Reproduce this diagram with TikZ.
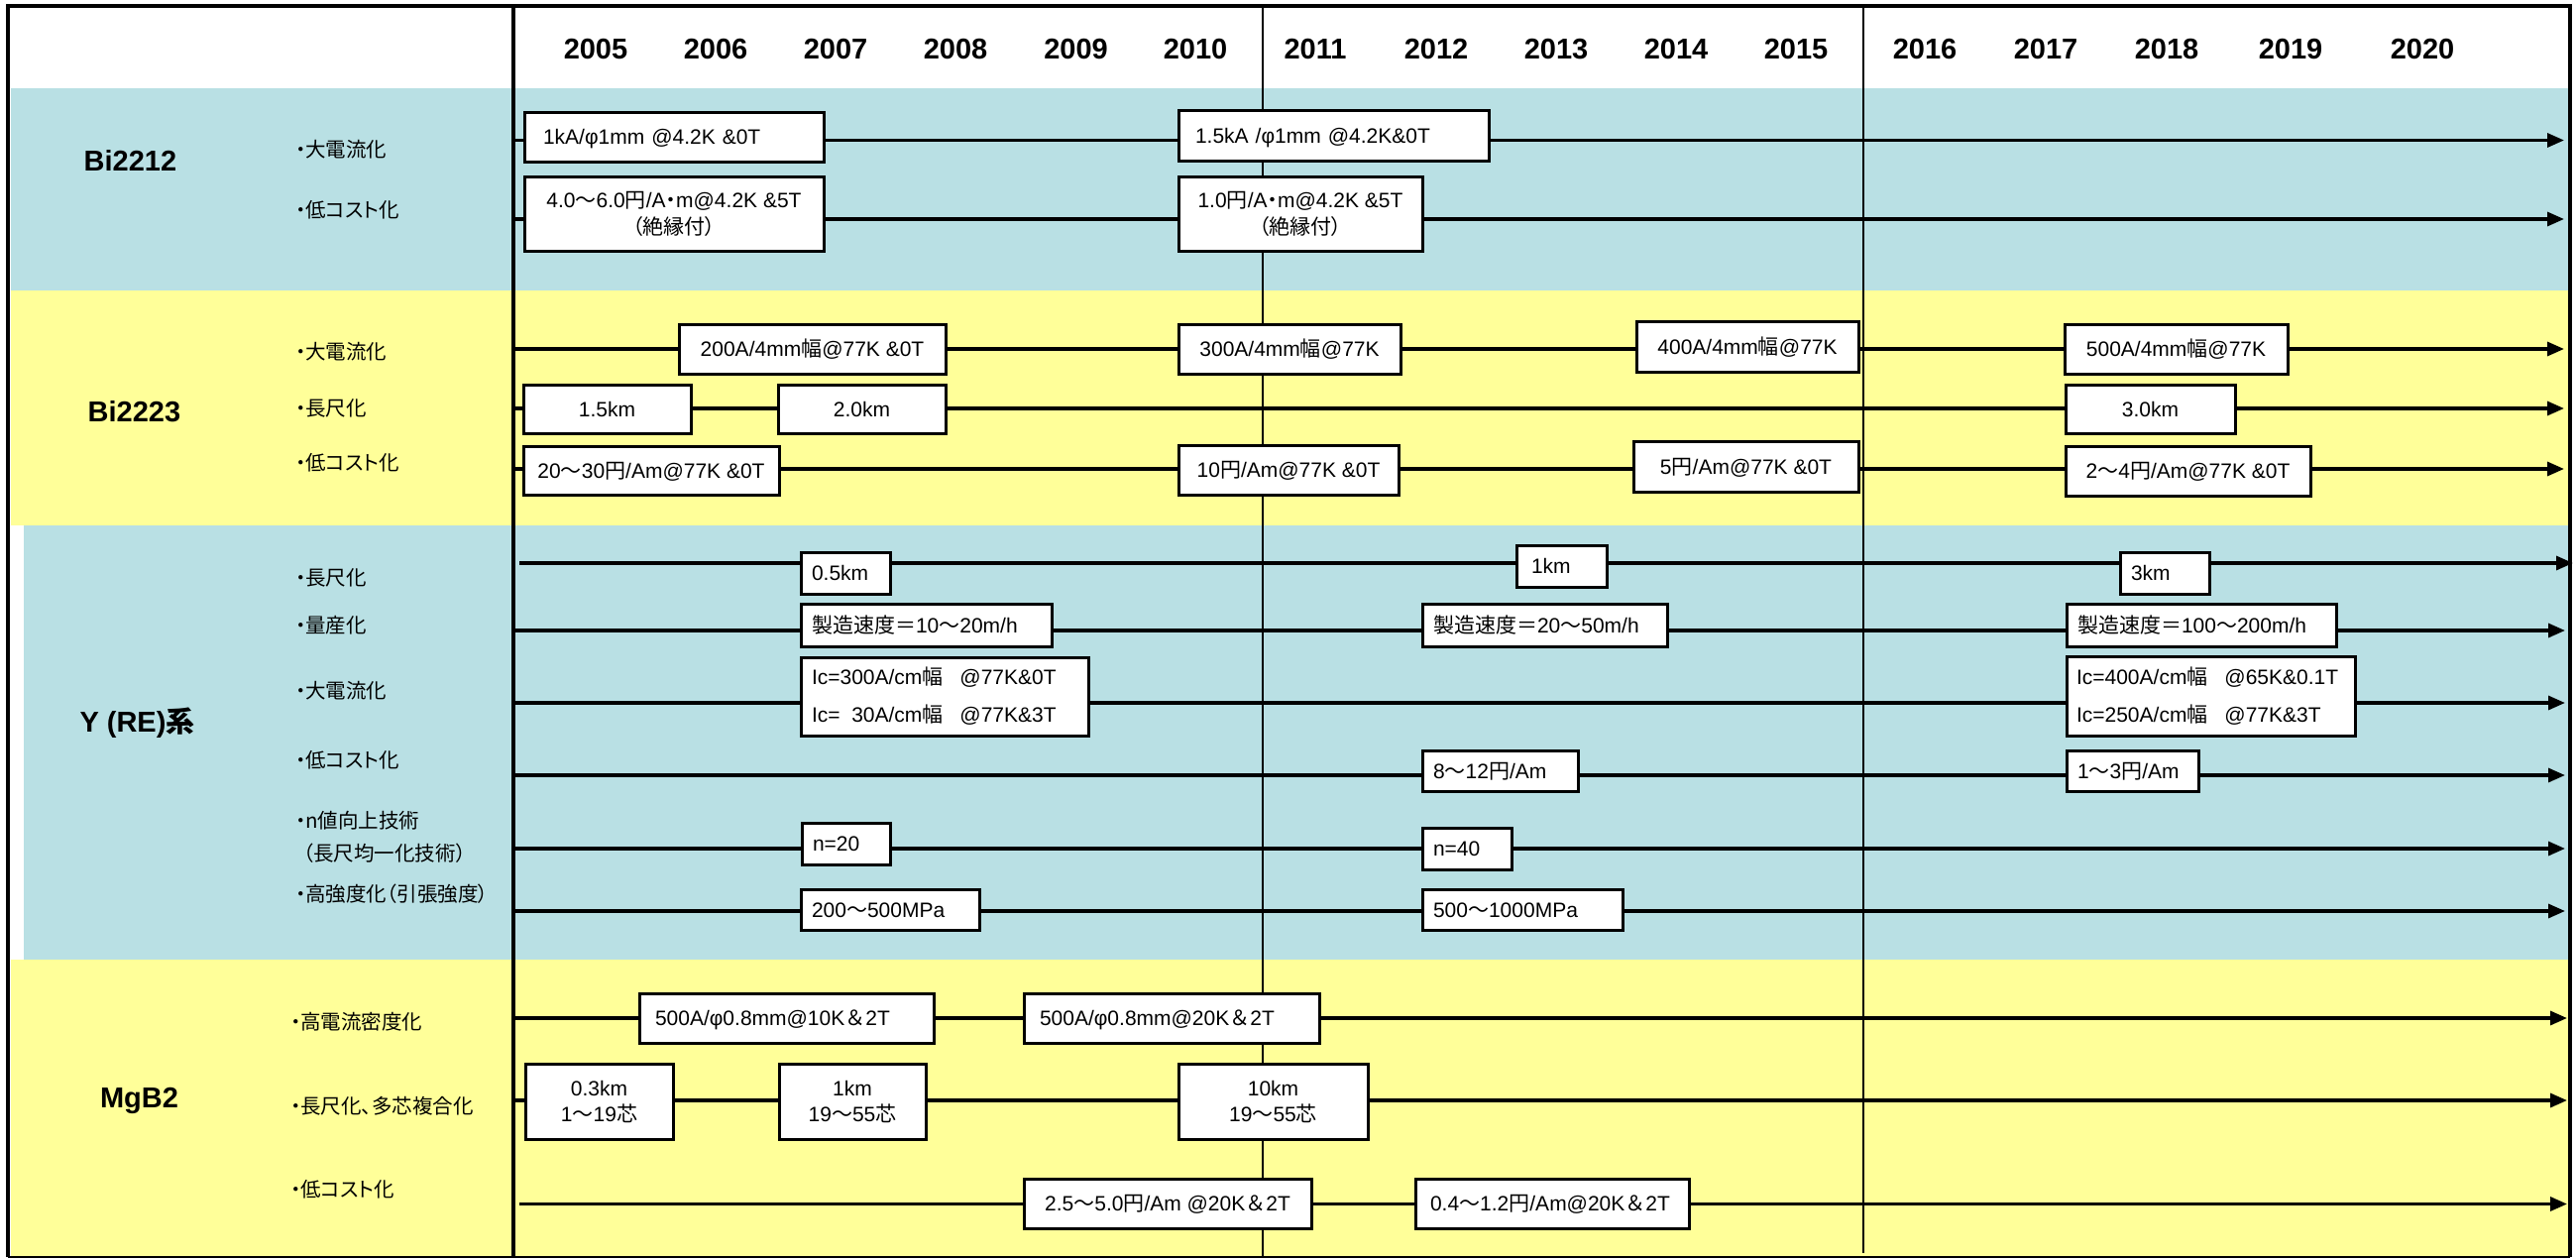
\documentclass[tikz,border=0pt]{standalone}
\usepackage{fontspec}
\setmainfont{Liberation Sans}
\newfontfamily\jp{Noto Sans CJK JP}
\newfontfamily\jpl[RawFeature=+palt]{Noto Sans CJK JP}
\usetikzlibrary{arrows.meta}
\definecolor{bandblue}{RGB}{185,224,228}
\definecolor{bandyellow}{RGB}{255,255,153}
\newcommand\J[1]{{\jp #1}}
\newcommand\Jp[1]{{\jpl #1}}
% left-aligned box: options, name, x1, x2, y1, y2, padding, text
\newcommand\bxL[8]{%
  \pgfmathsetmacro\bxw{#4-#3-2*#7}\pgfmathsetmacro\bxh{#6-#5}%
  \node[tbox,align=left,inner xsep=#7pt,text width=\bxw pt,minimum height=\bxh pt,#1]
    (#2) at ({(#3+#4)/2},{(#5+#6)/2}) {#8};}
% centred box: options, name, x1, x2, y1, y2, text
\newcommand\bxC[7]{%
  \pgfmathsetmacro\bxw{#4-#3}\pgfmathsetmacro\bxh{#6-#5}%
  \node[tbox,align=center,minimum width=\bxw pt,minimum height=\bxh pt,#1]
    (#2) at ({(#3+#4)/2},{(#5+#6)/2}) {#7};}
% timeline row: name, x start, x end, y
\newcommand\trow[4]{%
  \coordinate (#1s) at (#2,#4); \coordinate (#1e) at (#3,#4);
  \draw[rowline] (#1s) -- (#1e);}

\begin{document}
\begin{tikzpicture}[x=1pt,y=-1pt,
  yearlbl/.style={font=\fontsize{29}{34}\selectfont\bfseries, inner sep=0pt},
  grplbl/.style={font=\fontsize{29}{34}\selectfont\bfseries, inner sep=0pt},
  sublbl/.style={font=\fontsize{20.5}{26}\selectfont\jpl, anchor=west, inner sep=0pt},
  tbox/.style={draw, line width=3pt, fill=white, inner sep=0pt, font=\fontsize{21}{27}\selectfont},
  one/.style={text height=15pt, text depth=0pt},
  rowline/.style={line width=3.2pt, -{Triangle[length=17pt,width=14pt]}},
  gridline/.style={line width=2.5pt},
  divline/.style={line width=4pt}]
\useasboundingbox (0,0) rectangle (2599,1269);

% bands
\fill[white] (0,0) rectangle (2599,1269);
\fill[bandblue]   (11,89)  rectangle (2591,293);
\fill[bandyellow] (11,293) rectangle (2591,530);
\fill[bandblue]   (24,530) rectangle (2591,968);
\fill[bandyellow] (11,968) rectangle (2591,1268);

% grid lines
\draw[divline]  (518,6)  -- (518,1268);
\draw[gridline] (1274,6) -- (1274,1268);
\draw[gridline] (1880,6) -- (1880,1264);

% years
\foreach \yr/\xx in {2005/601,2006/722,2007/843,2008/964,2009/1085.5,2010/1206,
  2011/1327,2012/1449,2013/1570,2014/1691,2015/1812,2016/1942,2017/2064,
  2018/2186,2019/2311,2020/2444}
  \node[yearlbl] (y\yr) at (\xx,50) {\yr};

% timeline rows
\trow{a1}{518}{2587}{141.5}
\trow{a2}{518}{2587}{221}
\trow{b1}{518}{2587}{352}
\trow{b2}{518}{2587}{412}
\trow{b3}{518}{2587}{473}
\trow{c1}{524}{2596}{568}
\trow{c2}{518}{2588}{636}
\trow{c3}{518}{2588}{709}
\trow{c4}{518}{2588}{782}
\trow{c5}{518}{2588}{856}
\trow{c6}{518}{2588}{919}
\trow{d1}{518}{2590}{1027}
\trow{d2}{518}{2590}{1110}
\trow{d3}{524}{2590}{1214.5}

% Bi2212
\bxL{one}{a1x}{529}{831}{113}{163}{19}{1kA/φ1mm @4.2K \&0T}
\bxL{one}{a1y}{1189}{1502}{111}{162}{17}{1.5kA /φ1mm @4.2K\&0T}
\bxC{}{a2x}{529}{831}{178}{253}{4.0\J{～}6.0\J{円}/A\Jp{・}m@4.2K \&5T\\\Jp{（絶縁付）}}
\bxC{}{a2y}{1189}{1435}{178}{253}{1.0\J{円}/A\Jp{・}m@4.2K \&5T\\\Jp{（絶縁付）}}

% Bi2223
\bxC{one}{b1x}{685}{954}{327}{377}{200A/4mm\J{幅}@77K \&0T}
\bxC{one}{b1y}{1189}{1413}{327}{377}{300A/4mm\J{幅}@77K}
\bxC{one}{b1z}{1651}{1875}{324}{375}{400A/4mm\J{幅}@77K}
\bxC{one}{b1w}{2083}{2308}{327}{377}{500A/4mm\J{幅}@77K}
\bxC{one}{b2x}{528}{697}{388}{437}{1.5km}
\bxC{one}{b2y}{785}{954}{388}{437}{2.0km}
\bxC{one}{b2z}{2084}{2255}{388}{437}{3.0km}
\bxC{one}{b3x}{528}{786}{450}{499}{20\J{～}30\J{円}/Am@77K \&0T}
\bxC{one}{b3y}{1189}{1411}{449}{499}{10\J{円}/Am@77K \&0T}
\bxC{one}{b3z}{1648}{1875}{445}{496}{5\J{円}/Am@77K \&0T}
\bxC{one}{b3w}{2084}{2331}{450}{500}{2\J{～}4\J{円}/Am@77K \&0T}

% Y (RE)
\bxL{one}{c1x}{808}{898}{557}{599}{11}{0.5km}
\bxL{one}{c1y}{1530}{1621}{550}{592}{15}{1km}
\bxL{one}{c1z}{2139}{2229}{557}{599}{11}{3km}
\bxL{one}{c2x}{808}{1061}{609}{652}{11}{\J{製造速度＝}10\J{～}20m/h}
\bxL{one}{c2y}{1435}{1682}{609}{652}{11}{\J{製造速度＝}20\J{～}50m/h}
\bxL{one}{c2z}{2085}{2357}{609}{652}{11}{\J{製造速度＝}100\J{～}200m/h}
\bxL{font=\fontsize{21}{38}\selectfont}{c3x}{808}{1098}{663}{742}{11}{Ic=300A/cm\J{幅}\hspace{17pt}@77K\&0T\\Ic=\hphantom{3}30A/cm\J{幅}\hspace{17pt}@77K\&3T}
\bxL{font=\fontsize{21}{38}\selectfont}{c3y}{2085}{2376}{662}{742}{10}{Ic=400A/cm\J{幅}\hspace{17pt}@65K\&0.1T\\Ic=250A/cm\J{幅}\hspace{17pt}@77K\&3T}
\bxL{one}{c4x}{1435}{1592}{757}{798}{11}{8\J{～}12\J{円}/Am}
\bxL{one}{c4y}{2085}{2218}{757}{798}{11}{1\J{～}3\J{円}/Am}
\bxL{one}{c5x}{809}{898}{830}{872}{11}{n=20}
\bxL{one}{c5y}{1435}{1525}{835}{877}{11}{n=40}
\bxL{one}{c6x}{808}{988}{897}{938}{11}{200\J{～}500MPa}
\bxL{one}{c6y}{1435}{1637}{897}{938}{11}{500\J{～}1000MPa}

% MgB2
\bxL{one}{d1x}{645}{942}{1002}{1052}{16}{500A/φ0.8mm@10K\J{＆}2T}
\bxL{one}{d1y}{1033}{1331}{1002}{1052}{16}{500A/φ0.8mm@20K\J{＆}2T}
\bxC{font=\fontsize{21}{26}\selectfont}{d2x}{530}{679}{1073}{1149}{0.3km\\1\J{～}19\J{芯}}
\bxC{font=\fontsize{21}{26}\selectfont}{d2y}{786}{934}{1073}{1149}{1km\\19\J{～}55\J{芯}}
\bxC{font=\fontsize{21}{26}\selectfont}{d2z}{1189}{1380}{1073}{1149}{10km\\19\J{～}55\J{芯}}
\bxC{one}{d3x}{1033}{1323}{1189}{1239}{2.5\J{～}5.0\J{円}/Am @20K\J{＆}2T}
\bxL{one}{d3y}{1428}{1704}{1189}{1239}{15}{0.4\J{～}1.2\J{円}/Am@20K\J{＆}2T}

% group labels
\node[grplbl] (gA) at (131.5,162) {Bi2212};
\node[grplbl] (gB) at (135.5,415) {Bi2223};
\node[grplbl] (gC) at (138.5,729) {Y (RE)\J{系}};
\node[grplbl] (gD) at (140.5,1110) {MgB2};

% item labels
\node[sublbl] (sA1) at (298,151) {・大電流化};
\node[sublbl] (sA2) at (298,212) {・低コスト化};
\node[sublbl] (sB1) at (298,355) {・大電流化};
\node[sublbl] (sB2) at (298,412) {・長尺化};
\node[sublbl] (sB3) at (298,467) {・低コスト化};
\node[sublbl] (sC1) at (298,583) {・長尺化};
\node[sublbl] (sC2) at (298,631) {・量産化};
\node[sublbl] (sC3) at (298,697) {・大電流化};
\node[sublbl] (sC4) at (298,767) {・低コスト化};
\node[sublbl] (sC5) at (298,828) {・n値向上技術};
\node[sublbl] (sC5b) at (306,861) {（長尺均一化技術）};
\node[sublbl] (sC6) at (298,902) {・高強度化（引張強度）};
\node[sublbl] (sD1) at (293,1031) {・高電流密度化};
\node[sublbl] (sD2) at (293,1116) {・長尺化、多芯複合化};
\node[sublbl] (sD3) at (293,1200) {・低コスト化};

% outer frame
\draw[line width=4.5pt] (8,1268) -- (8,6) -- (2593,6) -- (2593,1268);
\draw[line width=2.5pt] (8,1268) -- (2593,1268);
\end{tikzpicture}
\end{document}
